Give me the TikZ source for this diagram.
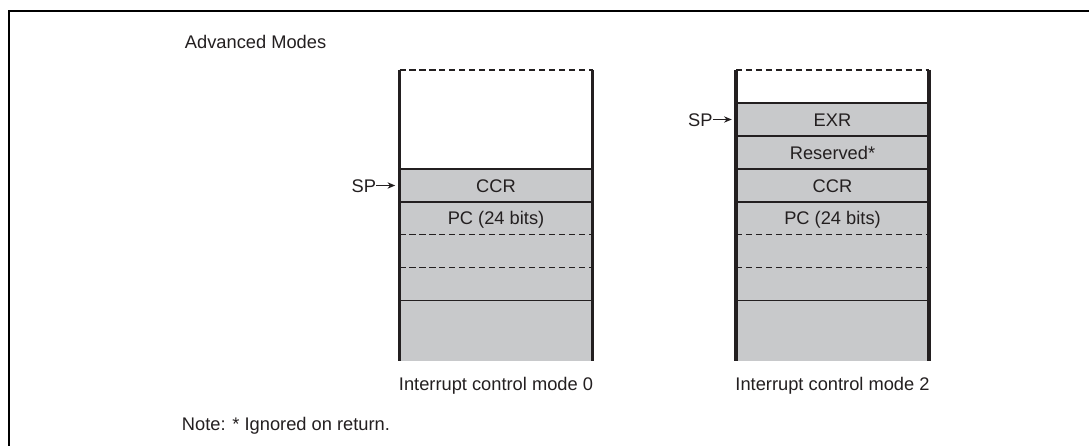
\documentclass[tikz,border=0pt]{standalone}
\usepackage{fontspec}
\setmainfont{Liberation Sans}
\usetikzlibrary{positioning, arrows.meta}
\definecolor{stackgray}{RGB}{200,201,203}
\definecolor{inkgray}{RGB}{35,31,32}

\begin{document}
\begin{tikzpicture}[
    x=0.025cm, y=-0.025cm,
    font=\fontsize{13}{15}\selectfont,
    text=inkgray,
    % one style per line weight, cells share one size
    frame/.style = {draw=black, line width=1.6pt},
    wall/.style  = {draw=inkgray, line width=2.4pt},
    rule/.style  = {draw=inkgray, line width=1pt},
    gap/.style   = {rule, dash pattern=on 4.3pt off 2.8pt},
    cell/.style  = {minimum width=4.825cm, minimum height=0.825cm, inner sep=0pt,
                    outer sep=0pt, text height=9.3pt, text depth=0pt},
    ptr/.style   = {inner sep=0pt, text height=9.3pt, text depth=0pt},
    spto/.style  = {draw=inkgray, line width=0.9pt, -{Stealth[length=5.5pt, width=4.5pt]},
                    shorten >=3pt},
  ]
  \useasboundingbox (0,0) rectangle (1089,446);

  %% ---------- outer frame and captions ----------
  \draw[frame] (9,446) -- (9,11) -- (1089,11);
  \node[anchor=base west] (title) at (180,49) {Advanced Modes};
  \node[anchor=base west] (note) at (177,430.5) {Note: * Ignored on return.};

  %% ---------- left: interrupt control mode 0 ----------
  \fill[stackgray] (399.5,169) rectangle (592.5,360.5);
  \draw[gap] (399.5,70) -- (592.5,70);
  \foreach \y in {169,202,300.5}
    \draw[rule] (399.5,\y) -- (592.5,\y);
  \foreach \y in {234.5,267.5}
    \draw[gap] (399.5,\y) -- (592.5,\y);
  \draw[wall] (399.5,70) -- (399.5,360.5);
  \draw[wall] (592.5,70) -- (592.5,360.5);

  \node[cell] (ccr0) at (496,185.5) {CCR};
  \node[cell] (pc0) at (496,218) {PC (24 bits)};
  \node[ptr, left=0.58cm of ccr0] (sp0) {SP};
  \draw[spto] (sp0.east) -- (ccr0.west);
  \node[anchor=base] (mode0) at (496,390) {Interrupt control mode 0};

  %% ---------- right: interrupt control mode 2 ----------
  \fill[stackgray] (736,103) rectangle (929,360.5);
  \draw[gap] (736,70) -- (929,70);
  \foreach \y in {103,136,169,202,300.5}
    \draw[rule] (736,\y) -- (929,\y);
  \foreach \y in {234.5,267.5}
    \draw[gap] (736,\y) -- (929,\y);
  \draw[wall] (736,70) -- (736,360.5);
  \draw[wall] (929,70) -- (929,360.5);

  \node[cell] (exr2) at (832.5,119.5) {EXR};
  \node[cell] (rsv2) at (832.5,152.5) {Reserved*};
  \node[cell] (ccr2) at (832.5,185.5) {CCR};
  \node[cell] (pc2) at (832.5,218) {PC (24 bits)};
  \node[ptr, left=0.58cm of exr2] (sp2) {SP};
  \draw[spto] (sp2.east) -- (exr2.west);
  \node[anchor=base] (mode2) at (832.5,390) {Interrupt control mode 2};
\end{tikzpicture}
\end{document}
